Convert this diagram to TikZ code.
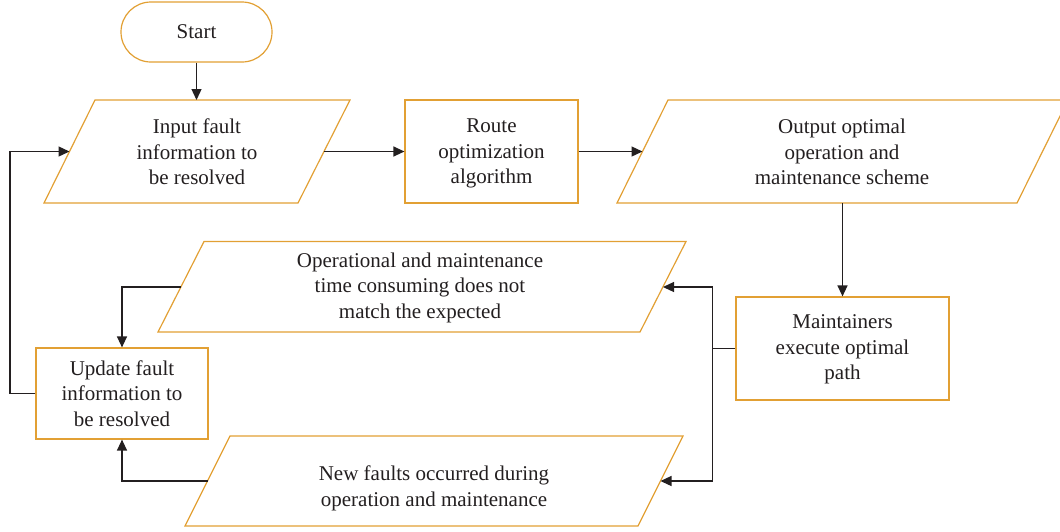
\documentclass[tikz,border=0pt]{standalone}
\usepackage{fontspec}
\setmainfont{Liberation Serif}
\usetikzlibrary{arrows.meta}
\definecolor{boxc}{RGB}{226,160,52}
\definecolor{ink}{RGB}{35,31,32}
\begin{document}
\begin{tikzpicture}[x=1pt,y=-1pt,
  every node/.style={font=\fontsize{21}{25.5}\selectfont, text=ink, align=center, inner sep=0pt},
  boxshape/.style={draw=boxc, line width=1.2pt, fill=white},
  procbox/.style={boxshape, rectangle},
  parashape/.style={draw=boxc, line width=1.2pt, line join=miter},
  conn/.style={draw=ink, line width=1.3pt},
  arr/.style={conn, -{Triangle[length=11pt,width=10pt]}}]
\useasboundingbox (0,0) rectangle (1060,531);

% start
\node[boxshape, rounded corners=30pt, minimum width=151pt, minimum height=60pt] (start) at (196.5,32) {Start};

% input parallelogram
\draw[parashape] (95,100) -- (350,100) -- (298,203) -- (44,203) -- cycle;
\node (input) at (197,152) {Input fault\\information to\\be resolved};
\coordinate (inTop) at (196.5,100);
\coordinate (inL) at (69.5,151.5);
\coordinate (inR) at (324,151.5);

% route box
\node[procbox, minimum width=173pt, minimum height=103pt] (route) at (491.5,151.5) {};
\node (routetxt) at (491.5,153.5) {Route\\optimization\\algorithm};

% output parallelogram
\draw[parashape] (668,100) -- (1068,100) -- (1017,203) -- (617,203) -- cycle;
\node (output) at (842,152) {Output optimal\\operation and\\maintenance scheme};
\coordinate (outL) at (642.5,151.5);
\coordinate (outB) at (842.5,203);

% maintainers box
\node[procbox, minimum width=213pt, minimum height=103pt] (maint) at (842.5,348.5) {};
\node (mainttxt) at (842.5,349.5) {Maintainers\\execute optimal\\path};

% operational parallelogram
\draw[parashape] (204,241.5) -- (686,241.5) -- (640,332) -- (158,332) -- cycle;
\node (oper) at (420,287.5) {Operational and maintenance\\time consuming does not\\match the expected};
\coordinate (opL) at (181,287);
\coordinate (opR) at (663,287);

% new faults parallelogram
\draw[parashape] (230,436) -- (683,436) -- (638,526) -- (185,526) -- cycle;
\node (newf) at (434,488.5) {New faults occurred during\\operation and maintenance};
\coordinate (nfL) at (207.5,481);
\coordinate (nfR) at (660.5,481);

% update box
\node[procbox, minimum width=172pt, minimum height=91pt] (update) at (122,393.5) {Update fault\\information to\\be resolved};

% connectors
\draw[arr] (start.south) -- (inTop);
\draw[arr] (inR) -- (route.west);
\draw[arr] (route.east) -- (outL);
\draw[arr] (outB) -- (maint.north);
\coordinate (junc) at (712.5,348.5);
\draw[conn] (maint.west) -- (junc);
\draw[arr] (junc) |- (opR);
\draw[arr] (junc) |- (nfR);
\draw[arr] (opL) -| (update.north);
\draw[arr] (nfL) -| (update.south);
\coordinate (leftx) at (10,393.5);
\draw[arr] (update.west) -- (leftx) |- (inL);
\end{tikzpicture}
\end{document}
